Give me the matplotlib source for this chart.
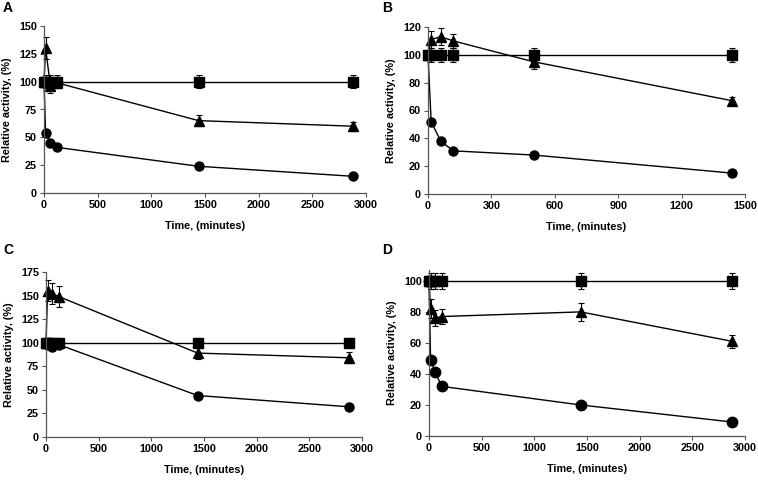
import matplotlib.pyplot as plt

plt.rcParams['font.family'] = ['Liberation Sans', 'DejaVu Sans']
plt.rcParams['font.weight'] = 'bold'

# panel A
a_time = [0, 15, 60, 120, 1440, 2880]
a_circle = [100, 54, 45, 41, 24, 15]
a_circle_err = [0, 1, 1, 1, 1, 1]
a_tri = [100, 130, 96, 99, 65, 60]
a_tri_err = [0, 10, 6, 5, 5, 4]
a_square = [100, 100, 100, 100, 100, 100]
a_square_err = [0, 6, 6, 6, 6, 6]

# panel B
b_time = [0, 15, 60, 120, 500, 1440]
b_circle = [100, 52, 38, 31, 28, 15]
b_circle_err = [0, 2, 2, 1, 1, 1]
b_tri = [100, 111, 113, 110, 95, 67]
b_tri_err = [0, 6, 6, 5, 5, 3]
b_square = [100, 100, 100, 100, 100, 100]
b_square_err = [0, 5, 5, 5, 5, 5]

# panel C
c_time = [0, 15, 60, 120, 1440, 2880]
c_circle = [100, 98, 95, 98, 44, 32]
c_circle_err = [0, 4, 4, 4, 1, 1]
c_tri = [100, 155, 152, 149, 89, 84]
c_tri_err = [0, 11, 11, 11, 6, 6]
c_square = [100, 100, 100, 100, 100, 100]
c_square_err = [0, 5, 5, 5, 5, 5]

# panel D
d_time = [0, 15, 60, 120, 1440, 2880]
d_circle = [100, 49, 41, 32, 20, 9]
d_circle_err = [0, 1, 1, 1, 1, 1]
d_tri = [100, 82, 76, 77, 80, 61]
d_tri_err = [0, 6, 5, 5, 6, 4]
d_square = [100, 100, 100, 100, 100, 100]
d_square_err = [0, 5, 5, 5, 5, 5]

W, H = 758, 480
fig = plt.figure(figsize=(W / 100, H / 100), dpi=100)


def make_ax(x0, x1, ytop, ybot):
    return fig.add_axes([x0 / W, (H - ybot) / H, (x1 - x0) / W, (ybot - ytop) / H])


def draw(ax, t, circ, circ_e, tri, tri_e, sq, sq_e, xmax, xstep, ymax, ystep, ytop, ms=6.5):
    kw = dict(color='black', lw=1.0, ecolor='black', elinewidth=0.8, capsize=2.5,
              capthick=0.8, clip_on=False)
    ax.errorbar(t, sq, yerr=sq_e, marker='s', ms=ms, **kw)
    ax.errorbar(t, tri, yerr=tri_e, marker='^', ms=ms, **kw)
    ax.errorbar(t, circ, yerr=circ_e, marker='o', ms=ms, **kw)
    ax.set_xlim(0, xmax)
    ax.set_ylim(0, ytop)
    ax.set_xticks(range(0, xmax + 1, xstep))
    ax.set_yticks(range(0, ymax + 1, ystep))
    for s in ['top', 'right']:
        ax.spines[s].set_visible(False)
    for s in ['left', 'bottom']:
        ax.spines[s].set_linewidth(0.9)
        ax.spines[s].set_color('#555555')
    ax.tick_params(labelsize=7.8, length=3, width=0.8, color='#555555', pad=2)
    for lab in ax.get_xticklabels() + ax.get_yticklabels():
        lab.set_fontweight('bold')
    ax.set_xlabel('Time, (minutes)', fontsize=7.8, fontweight='bold', labelpad=8)
    ax.set_ylabel('Relative activity, (%)', fontsize=7.8, fontweight='bold', labelpad=5)


axA = make_ax(44, 366, 26, 193)
draw(axA, a_time, a_circle, a_circle_err, a_tri, a_tri_err, a_square, a_square_err,
     3000, 500, 150, 25, 150)
axB = make_ax(428, 745, 27, 194)
draw(axB, b_time, b_circle, b_circle_err, b_tri, b_tri_err, b_square, b_square_err,
     1500, 300, 120, 20, 120)
axC = make_ax(46, 362, 272, 437)
draw(axC, c_time, c_circle, c_circle_err, c_tri, c_tri_err, c_square, c_square_err,
     3000, 500, 175, 25, 175)
axD = make_ax(429, 745, 270, 436)
draw(axD, d_time, d_circle, d_circle_err, d_tri, d_tri_err, d_square, d_square_err,
     3000, 500, 100, 20, 107, ms=7.5)

for lab, x, y in [('A', 3, 8), ('B', 382, 8), ('C', 3, 250), ('D', 382, 250)]:
    fig.text(x / W, 1 - y / H, lab, fontsize=10, fontweight='bold', va='center')

fig.savefig('out.png', dpi=100)
